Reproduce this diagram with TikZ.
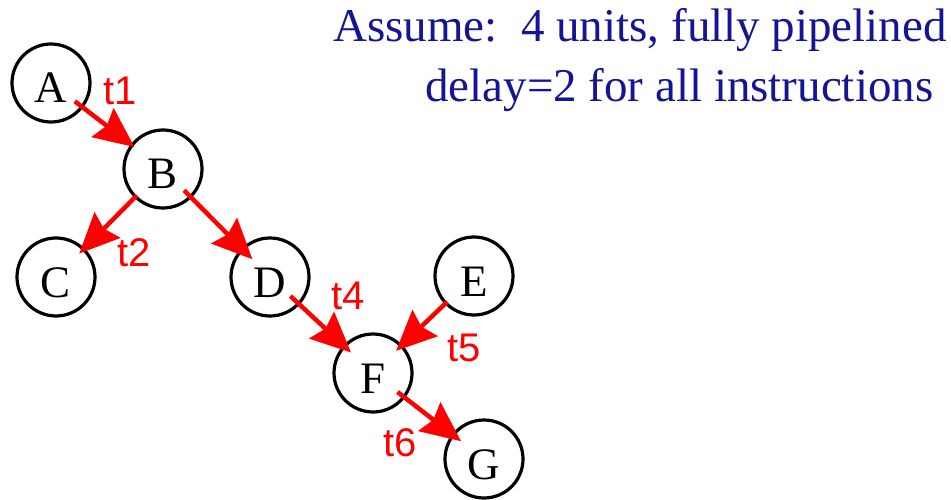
\documentclass[tikz,border=0pt]{standalone}
\usepackage{fontspec}
\setmainfont{Liberation Serif}
\newfontfamily\labfont{Liberation Sans}
\usetikzlibrary{calc,arrows.meta}
\definecolor{navy}{RGB}{20,20,150}
\tikzset{
  circ/.style={draw=black, line width=3.2pt, circle, minimum size=78pt, inner sep=0pt,
    font=\fontsize{45}{45}\selectfont, text height=40pt, text depth=0pt},
  arr/.style={draw=red, line width=4.5pt, -{Stealth[length=40pt,width=36pt,inset=5pt]}},
  tlab/.style={text=red, font=\labfont\fontsize{40}{40}\selectfont, inner sep=0pt},
  note/.style={text=navy, font=\fontsize{47}{47}\selectfont, inner sep=0pt, anchor=base west}
}
\begin{document}
\begin{tikzpicture}[x=1pt,y=-1pt]
\useasboundingbox (0,0) rectangle (951,500);
\node[circ] (A) at (51,83) {A};
\node[circ] (B) at (163,169) {B};
\node[circ] (C) at (56,277) {C};
\node[circ] (D) at (270,277) {D};
\node[circ] (E) at (474,276) {E};
\node[circ] (F) at (373,373) {F};
\node[circ] (G) at (484,459) {G};
\draw[arr] ($(A)!30pt!(B)$) -- ($(B)!36pt!(A)$);
\draw[arr] ($(B)!37pt!(C)$) -- ($(C)!33pt!(B)$);
\draw[arr] ($(B)!30pt!(D)$) -- ($(D)!25pt!(B)$);
\draw[arr] ($(D)!28pt!(F)$) -- ($(F)!30pt!(D)$);
\draw[arr] ($(E)!37pt!(F)$) -- ($(F)!32pt!(E)$);
\draw[arr] ($(F)!31pt!(G)$) -- ($(G)!29pt!(F)$);
\node[tlab] (t1) at (120,91) {t1};
\node[tlab] (t2) at (134,253) {t2};
\node[tlab] (t4) at (348,296) {t4};
\node[tlab] (t5) at (464,348) {t5};
\node[tlab] (t6) at (400,443) {t6};
\node[note] (n1) at (333,42) {Assume:\ \ 4 units, fully pipelined};
\node[note] (n2) at (425,102) {delay=2 for all instructions};
\end{tikzpicture}
\end{document}
